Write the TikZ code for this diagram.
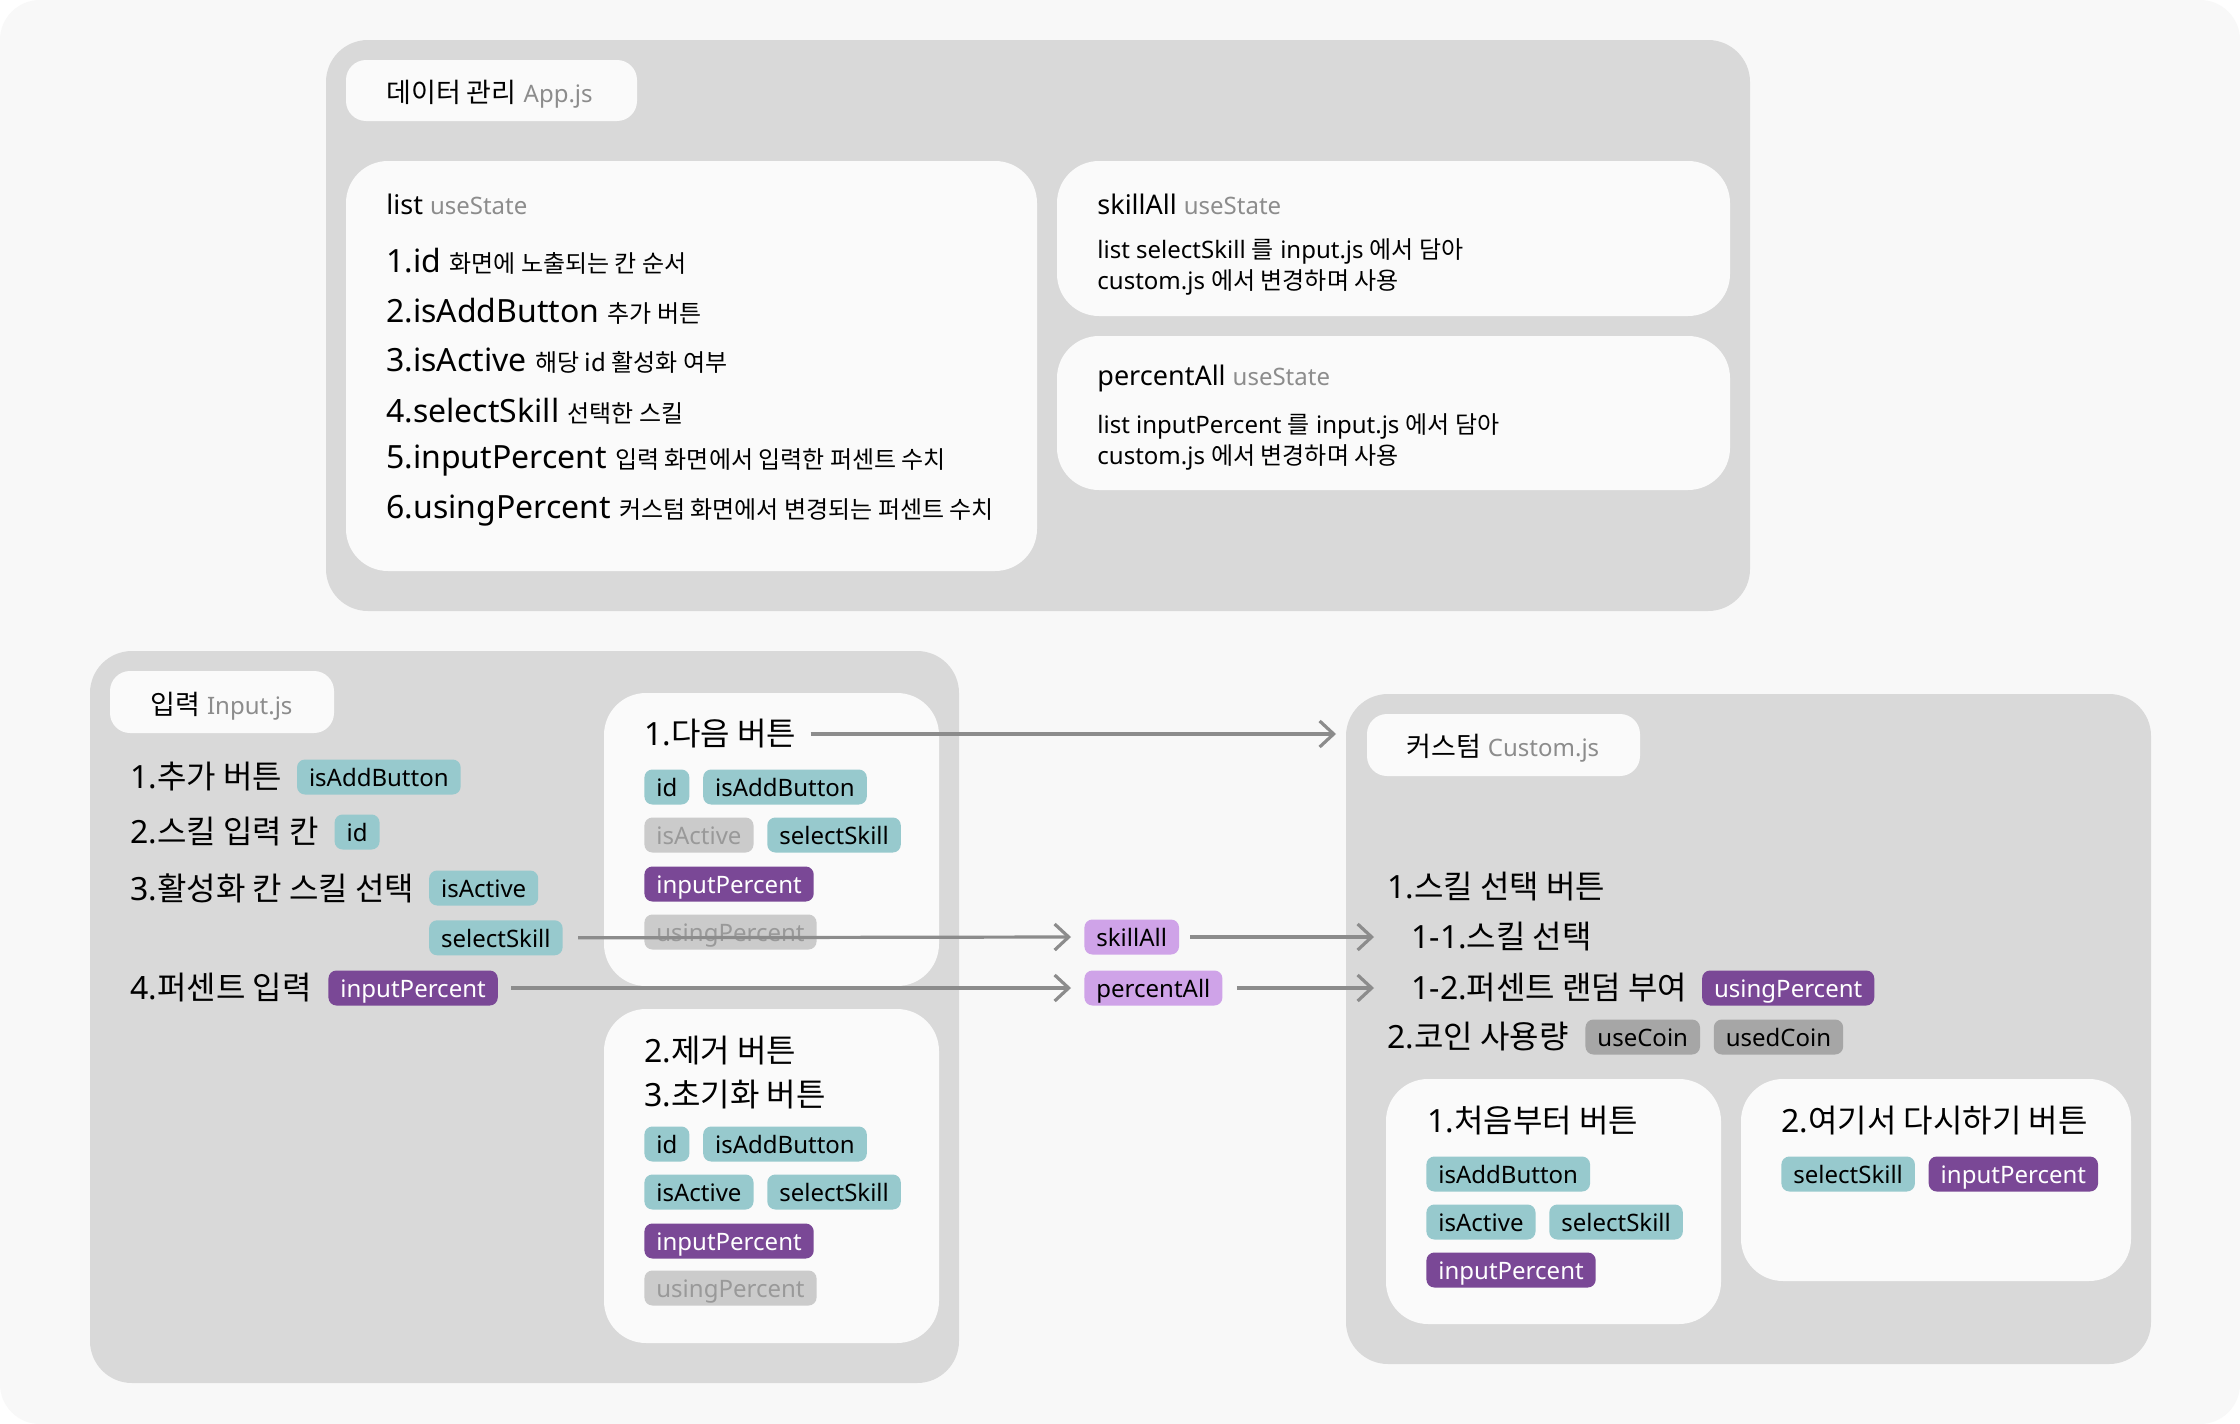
\documentclass[tikz,border=0pt]{standalone}
\usepackage{fontspec}
\setmainfont{Noto Sans}
\newfontfamily\krfont{Noto Sans CJK KR}
\usetikzlibrary{positioning,arrows.meta}

\definecolor{pagebg}{HTML}{F8F8F8}
\definecolor{grpgray}{HTML}{D9D9D9}
\definecolor{cardbg}{HTML}{FAFAFA}
\definecolor{subgray}{HTML}{8C8C8C}
\definecolor{linegray}{HTML}{8C8C8C}
\definecolor{tealtag}{HTML}{97C9CD}
\definecolor{purptag}{HTML}{7A4896}
\definecolor{liltag}{HTML}{CFA3E8}
\definecolor{offtag}{HTML}{CBCBCB}
\definecolor{offtext}{HTML}{999999}
\definecolor{cointag}{HTML}{A6A6A6}

\newcommand\kr[1]{{\krfont #1}}
\newcommand\note[1]{{\fontsize{12}{14}\selectfont\krfont #1}}
\newcommand\src[1]{{\fontsize{12}{14}\selectfont\color{subgray}#1}}

\tikzset{
  group/.style={fill=grpgray, rounded corners=21pt},
  card/.style={fill=cardbg, rounded corners=21pt},
  pill/.style={fill=cardbg, rounded corners=10pt},
  txt/.style={anchor=west, inner sep=0pt},
  big/.style={txt, font=\fontsize{16}{19}\selectfont},
  head/.style={txt, font=\fontsize{13.5}{16}\selectfont},
  body/.style={txt, font=\fontsize{12}{15.5}\selectfont, align=left},
  tag/.style={anchor=west, rounded corners=4pt, inner xsep=6pt, inner ysep=3.25pt,
    text height=10.3pt, text depth=0.7pt, font=\fontsize{12}{14}\selectfont},
  teal/.style={tag, fill=tealtag},
  purp/.style={tag, fill=purptag, text=white},
  lilac/.style={tag, fill=liltag},
  off/.style={tag, fill=offtag, text=offtext},
  coin/.style={tag, fill=cointag},
  flow/.style={draw=linegray, line width=1.6pt,
    -{Straight Barb[length=7pt, width=13pt]}},
  node distance=6.5pt
}

\begin{document}
\begin{tikzpicture}[x=0.5pt, y=-0.5pt]
\fill[white] (0,0) rectangle (2240,1424);
\fill[pagebg, rounded corners=20pt] (0,0) rectangle (2240,1424);
\useasboundingbox (0,0) rectangle (2240,1424);

% App.js
\fill[group] (326,40) rectangle (1750,611);
\fill[pill] (346,60) rectangle (637,121);
\node[head] (appT) at (386,94) {\kr{데이터 관리} \src{App.js}};
\fill[card] (346,161) rectangle (1037,571);
\node[head] (listT) at (386,204) {list \src{useState}};
\node[big] (list1) at (386,261) {1.id \note{화면에 노출되는 칸 순서}};
\node[big] (list2) at (386,311) {2.isAddButton \note{추가 버튼}};
\node[big] (list3) at (386,361) {3.isActive \note{해당 id 활성화 여부}};
\node[big] (list4) at (386,411) {4.selectSkill \note{선택한 스킬}};
\node[big] (list5) at (386,461) {5.inputPercent \note{입력 화면에서 입력한 퍼센트 수치}};
\node[big] (list6) at (386,511) {6.usingPercent \note{커스텀 화면에서 변경되는 퍼센트 수치}};

\fill[card] (1057,161) rectangle (1730,316);
\node[head] (skillT) at (1097,204) {skillAll \src{useState}};
\node[body] (skillD) at (1097,267) {list selectSkill \kr{를} input.js \kr{에서 담아}\\custom.js \kr{에서 변경하며 사용}};
\fill[card] (1057,336) rectangle (1730,490);
\node[head] (pctT) at (1097,378) {percentAll \src{useState}};
\node[body] (pctD) at (1097,442) {list inputPercent \kr{를} input.js \kr{에서 담아}\\custom.js \kr{에서 변경하며 사용}};

% Input.js
\fill[group] (90,651) rectangle (959,1383);
\fill[pill] (110,671) rectangle (334,733);
\node[head] (inT) at (150,706) {\kr{입력} \src{Input.js}};
\node[big] (add) at (130,777) {1.\kr{추가 버튼}};
\node[teal, right=7pt of add] (addIn) {isAddButton};
\node[big] (skl) at (130,832) {2.\kr{스킬 입력 칸}};
\node[teal, right=7.5pt of skl] (idIn) {id};
\node[big] (act) at (130,888) {3.\kr{활성화 칸 스킬 선택}};
\node[teal, right=7pt of act] (actIn) {isActive};
\node[teal, below=7pt of actIn.south west, anchor=north west] (selIn) {selectSkill};
\node[big] (pct) at (130,988) {4.\kr{퍼센트 입력}};
\node[purp, right=8pt of pct] (pctIn) {inputPercent};

\fill[card] (604,693) rectangle (939,986);
\node[big] (next) at (644,734) {1.\kr{다음 버튼}};
\node[teal] (nId) at (644,787) {id};
\node[teal, right=of nId] (nAdd) {isAddButton};
\node[off] (nAct) at (644,835) {isActive};
\node[teal, right=of nAct] (nSel) {selectSkill};
\node[purp] (nIn) at (644,884) {inputPercent};
\node[off] (nUse) at (644,932) {usingPercent};

\fill[card] (604,1009) rectangle (939,1343);
\node[big] (del) at (644,1051) {2.\kr{제거 버튼}};
\node[big] (reset) at (644,1095) {3.\kr{초기화 버튼}};
\node[teal] (dId) at (644,1144) {id};
\node[teal, right=of dId] (dAdd) {isAddButton};
\node[teal] (dAct) at (644,1192) {isActive};
\node[teal, right=of dAct] (dSel) {selectSkill};
\node[purp] (dIn) at (644,1241) {inputPercent};
\node[off] (dUse) at (644,1288) {usingPercent};

% state
\node[lilac] (skAll) at (1084,937) {skillAll};
\node[lilac] (pcAll) at (1084,988) {percentAll};

% Custom.js
\fill[group] (1346,694) rectangle (2151,1364);
\coordinate (cusIn) at (1336,734);
\fill[pill] (1367,714) rectangle (1640,776);
\node[head] (cusT) at (1406,748) {\kr{커스텀} \src{Custom.js}};
\node[big] (pick) at (1387,887) {1.\kr{스킬 선택 버튼}};
\node[big] (pick1) at (1411,937) {1-1.\kr{스킬 선택}};
\node[big] (pick2) at (1411,988) {1-2.\kr{퍼센트 랜덤 부여}};
\node[purp, right=7pt of pick2] (useIn) {usingPercent};
\node[big] (coin) at (1387,1037) {2.\kr{코인 사용량}};
\node[coin, right=8pt of coin] (useC) {useCoin};
\node[coin, right=of useC] (usedC) {usedCoin};

\fill[card] (1386,1079) rectangle (1721,1324);
\node[big] (first) at (1427,1121) {1.\kr{처음부터 버튼}};
\node[teal] (fAdd) at (1426,1174) {isAddButton};
\node[teal] (fAct) at (1426,1222) {isActive};
\node[teal, right=of fAct] (fSel) {selectSkill};
\node[purp] (fIn) at (1426,1270) {inputPercent};

\fill[card] (1741,1079) rectangle (2131,1281);
\node[big] (again) at (1781,1121) {2.\kr{여기서 다시하기 버튼}};
\node[teal] (aSel) at (1781,1174) {selectSkill};
\node[purp, right=of aSel] (aIn) {inputPercent};

% connectors
\draw[flow] ([xshift=7pt]next.east) -- (next.east -| cusIn);
\draw[flow] ([xshift=7.5pt]selIn.east) -- ([xshift=-6.5pt]skAll.west);
\draw[flow] ([xshift=6.5pt]pctIn.east) -- ([xshift=-6.5pt]pcAll.west);
\draw[flow] ([xshift=5.5pt]skAll.east) -- ([xshift=-18.5pt]pick1.west);
\draw[flow] ([xshift=7pt]pcAll.east) -- ([xshift=-18.5pt]pick2.west);
\end{tikzpicture}
\end{document}
